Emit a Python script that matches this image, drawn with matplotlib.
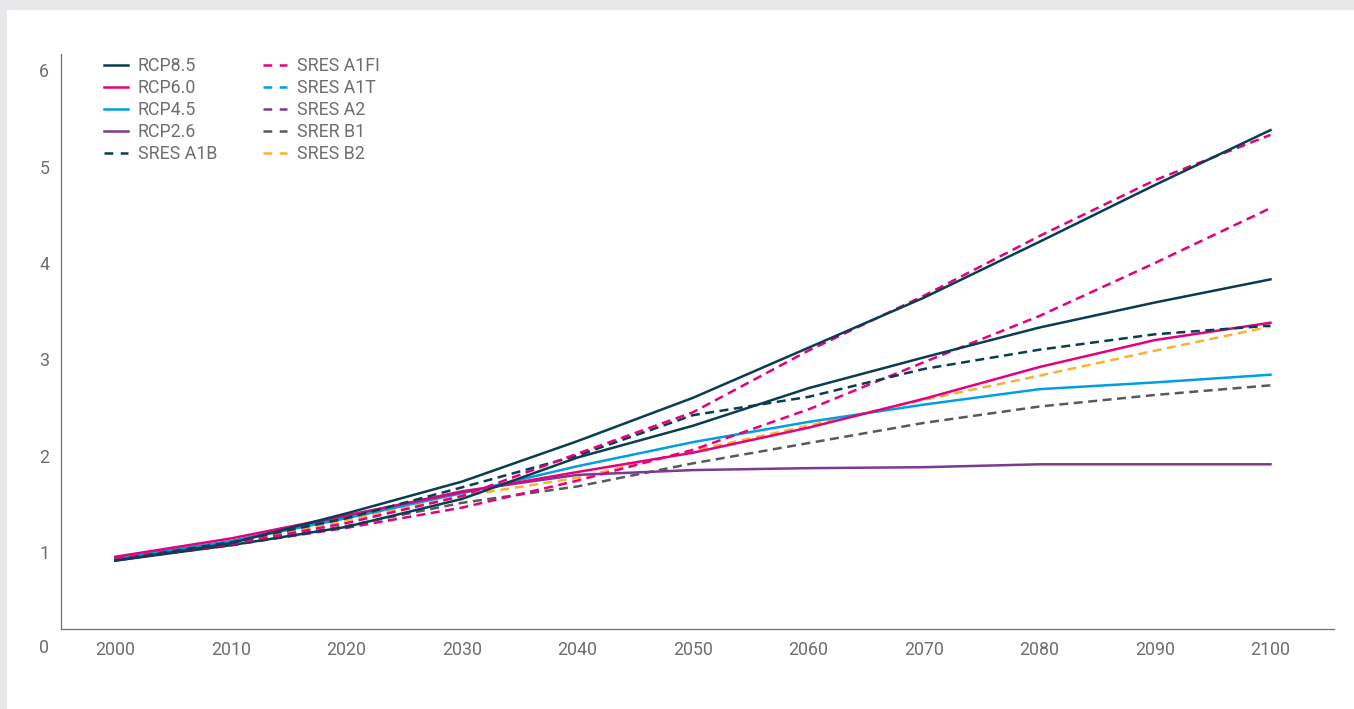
import matplotlib
matplotlib.use('Agg')
import matplotlib.pyplot as plt
from matplotlib.lines import Line2D
from matplotlib.patches import Rectangle
from matplotlib.transforms import offset_copy

plt.rcParams['font.family'] = ['Roboto', 'DejaVu Sans']

# data
years = [2000, 2010, 2020, 2030, 2040, 2050, 2060, 2070, 2080, 2090, 2100]
rcp85 = [0.91, 1.09, 1.40, 1.73, 2.15, 2.60, 3.12, 3.64, 4.22, 4.81, 5.38]
rcp85_low = [0.91, 1.07, 1.26, 1.55, 1.98, 2.31, 2.70, 3.02, 3.33, 3.59, 3.83]
rcp60 = [0.95, 1.14, 1.38, 1.62, 1.83, 2.03, 2.29, 2.59, 2.92, 3.20, 3.38]
rcp45 = [0.93, 1.11, 1.35, 1.61, 1.89, 2.14, 2.35, 2.53, 2.69, 2.76, 2.84]
rcp26 = [0.93, 1.11, 1.37, 1.63, 1.80, 1.85, 1.87, 1.88, 1.91, 1.91, 1.91]
sres_a1b = [0.92, 1.10, 1.35, 1.67, 2.00, 2.42, 2.61, 2.90, 3.10, 3.26, 3.35]
sres_a1fi = [0.92, 1.08, 1.30, 1.58, 2.02, 2.45, 3.09, 3.66, 4.28, 4.86, 5.33]
sres_a1fi_low = [0.92, 1.07, 1.25, 1.46, 1.74, 2.06, 2.48, 2.97, 3.45, 4.00, 4.57]
sres_b1 = [0.92, 1.07, 1.27, 1.51, 1.68, 1.92, 2.13, 2.34, 2.51, 2.63, 2.73]
sres_b2 = [0.92, 1.09, 1.33, 1.58, 1.77, 2.05, 2.31, 2.58, 2.83, 3.09, 3.34]

yticks = [1, 2, 3, 4, 5, 6]
legend_col1 = ['RCP8.5', 'RCP6.0', 'RCP4.5', 'RCP2.6', 'SRES A1B']
legend_col2 = ['SRES A1FI', 'SRES A1T', 'SRES A2', 'SRER B1', 'SRES B2']

dark = '#0a3d50'
pink = '#e6007e'
blue = '#009ee2'
purple = '#7b3a8f'
grey = '#58595b'
orange = '#fbb034'
txt = '#6d6e70'
fs = 12.8

fig = plt.figure(figsize=(13.54, 7.09), dpi=100, facecolor='#e8e8ea')
# white card on grey page
fig.patches.append(Rectangle((7/1354, 0), 1, (709-10)/709, transform=fig.transFigure,
                             facecolor='white', edgecolor='none', zorder=-10))
ax = fig.add_axes([61/1354, 80/709, (1334-61)/1354, (629-54)/709])
ax.set_facecolor('none')

lw = 1.8
dash = (0, (3.6, 2.2))
ax.plot(years, sres_b1, color=grey, lw=lw, linestyle=dash)
ax.plot(years, sres_b2, color=orange, lw=lw, linestyle=dash)
ax.plot(years, rcp26, color=purple, lw=lw)
ax.plot(years, rcp45, color=blue, lw=lw)
ax.plot(years, rcp60, color=pink, lw=lw)
ax.plot(years, sres_a1fi_low, color=pink, lw=lw, linestyle=dash)
ax.plot(years, sres_a1b, color=dark, lw=lw, linestyle=dash)
ax.plot(years, rcp85_low, color=dark, lw=lw)
ax.plot(years, sres_a1fi, color=pink, lw=lw, linestyle=dash)
ax.plot(years, rcp85, color=dark, lw=lw)

ax.set_xlim(1995.3, 2105.5)
ax.set_ylim(0.2, 6.17)
ax.set_xticks(years)
ax.set_yticks(yticks)
ax.tick_params(length=0, labelsize=fs, labelcolor=txt, pad=8.5)
for s in ['top', 'right']:
    ax.spines[s].set_visible(False)
for s in ['left', 'bottom']:
    ax.spines[s].set_color('#707070')
    ax.spines[s].set_linewidth(0.9)

# zero label at the origin corner
tr = offset_copy(ax.transAxes, fig=fig, x=-17, y=-19, units='dots')
ax.text(0, 0, '0', transform=tr, ha='center', va='center', fontsize=fs, color=txt)

cols1 = [(dark, '-'), (pink, '-'), (blue, '-'), (purple, '-'), (dark, '--')]
cols2 = [(pink, '--'), (blue, '--'), (purple, '--'), (grey, '--'), (orange, '--')]
handles = [Line2D([], [], color=c, lw=lw, linestyle=(0, (3.5, 3)) if ls == '--' else '-')
           for c, ls in cols1 + cols2]
labels = legend_col1 + legend_col2
leg = ax.legend(handles, labels, ncol=2, frameon=False, loc='upper left',
                bbox_to_anchor=(0.024, 1.016), fontsize=fs, handlelength=1.35,
                handletextpad=0.56, labelspacing=0.22, columnspacing=2.55,
                borderaxespad=0.3)
for t in leg.get_texts():
    t.set_color(txt)

fig.savefig('out.png', dpi=100, facecolor=fig.get_facecolor())
